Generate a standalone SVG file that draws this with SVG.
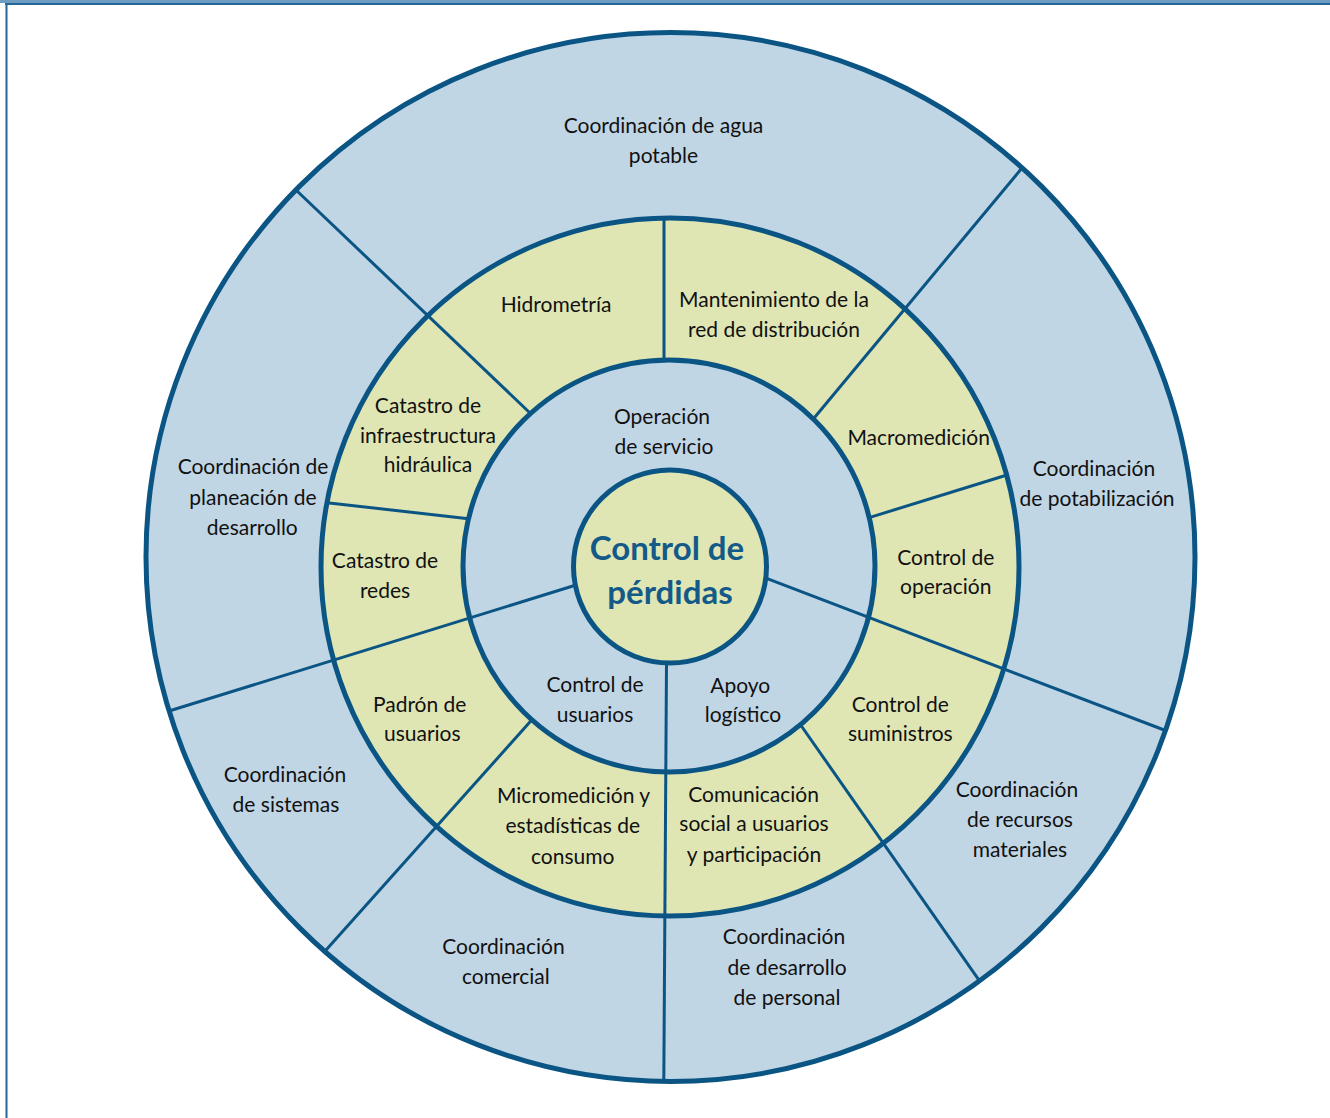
<svg xmlns="http://www.w3.org/2000/svg" width="1330" height="1118" viewBox="0 0 1330 1118">
<style>
.bf{fill:#c1d6e5}
.gf{fill:#dfe6b4}
.ring{fill:none;stroke:#0b5585;stroke-width:5}
.div{stroke:#0b5585;stroke-width:3;fill:none}
.t{font-family:Lato,"Open Sans","Liberation Sans",sans-serif;font-size:21px;fill:#111111;text-anchor:middle}
.title{font-family:Lato,"Open Sans","Liberation Sans",sans-serif;font-size:33px;font-weight:bold;fill:#145a88;text-anchor:middle}
</style>
<rect x="0" y="0" width="1330" height="1118" fill="#ffffff"/>
<line x1="0" y1="1.5" x2="1330" y2="1.5" stroke="#6f9dc1" stroke-width="3"/>
<line x1="5" y1="4" x2="1330" y2="4" stroke="#24679a" stroke-width="2"/>
<line x1="6.5" y1="3" x2="6.5" y2="1118" stroke="#24679a" stroke-width="2"/>

<g id="fills">
<circle cx="670.5" cy="557" r="524.5" class="bf"/>
<circle cx="670" cy="567" r="349" class="gf"/>
<circle cx="669" cy="566" r="206" class="bf"/>
</g>

<g id="connectors">
<line class="div" x1="296" y1="190" x2="530" y2="413"/>
<line class="div" x1="1022" y1="168" x2="813.7" y2="418.5"/>
<line class="div" x1="169" y1="711" x2="575.3" y2="585.3"/>
<line class="div" x1="765.9" y1="578.2" x2="1165.5" y2="730.5"/>
<line class="div" x1="324.7" y1="951.4" x2="531.9" y2="719.8"/>
<line class="div" x1="979.5" y1="980.8" x2="800" y2="724"/>
<line class="div" x1="666.5" y1="663" x2="663.8" y2="1081.5"/>
<line class="div" x1="664" y1="218" x2="664" y2="360"/>
<line class="div" x1="327" y1="502.7" x2="468.5" y2="518.7"/>
<line class="div" x1="1007" y1="475" x2="869.2" y2="517.6"/>
</g>

<g id="rings">
<circle cx="670.5" cy="557" r="524.5" class="ring"/>
<circle cx="670" cy="567" r="349" class="ring"/>
<circle cx="669" cy="566" r="206" class="ring"/>
</g>

<g id="center">
<circle cx="670" cy="566.5" r="96.5" class="gf"/>
<circle cx="670" cy="566.5" r="96.5" class="ring"/>
<text class="title"><tspan x="667" y="560">Control de</tspan><tspan x="670" y="604">pérdidas</tspan></text>
</g>

<g id="coord-agua-potable"><text class="t"><tspan x="663.5" y="133">Coordinación de agua</tspan><tspan x="663.5" y="163">potable</tspan></text></g>
<g id="coord-potabilizacion"><text class="t"><tspan x="1094" y="476">Coordinación</tspan><tspan x="1097" y="506">de potabilización</tspan></text></g>
<g id="coord-recursos"><text class="t"><tspan x="1017" y="797">Coordinación</tspan><tspan x="1020" y="827">de recursos</tspan><tspan x="1020" y="857">materiales</tspan></text></g>
<g id="coord-personal"><text class="t"><tspan x="784" y="944">Coordinación</tspan><tspan x="787" y="975">de desarrollo</tspan><tspan x="787" y="1005">de personal</tspan></text></g>
<g id="coord-comercial"><text class="t"><tspan x="503.5" y="954">Coordinación</tspan><tspan x="505.8" y="984">comercial</tspan></text></g>
<g id="coord-sistemas"><text class="t"><tspan x="285" y="782">Coordinación</tspan><tspan x="286" y="812">de sistemas</tspan></text></g>
<g id="coord-planeacion"><text class="t"><tspan x="253" y="474">Coordinación de</tspan><tspan x="253" y="505">planeación de</tspan><tspan x="252.3" y="535">desarrollo</tspan></text></g>

<g id="hidrometria"><text class="t"><tspan x="556" y="312">Hidrometría</tspan></text></g>
<g id="mantenimiento"><text class="t"><tspan x="774" y="307">Mantenimiento de la</tspan><tspan x="774" y="337">red de distribución</tspan></text></g>
<g id="macromedicion"><text class="t"><tspan x="918.7" y="445">Macromedición</tspan></text></g>
<g id="control-operacion"><text class="t"><tspan x="945.8" y="565">Control de</tspan><tspan x="945.8" y="594">operación</tspan></text></g>
<g id="control-suministros"><text class="t"><tspan x="900.3" y="712">Control de</tspan><tspan x="900.3" y="741">suministros</tspan></text></g>
<g id="comunicacion"><text class="t"><tspan x="753.6" y="802">Comunicación</tspan><tspan x="754" y="831">social a usuarios</tspan><tspan x="754" y="862">y participación</tspan></text></g>
<g id="micromedicion"><text class="t"><tspan x="573.5" y="803">Micromedición y</tspan><tspan x="572.8" y="833">estadísticas de</tspan><tspan x="572.7" y="864">consumo</tspan></text></g>
<g id="padron"><text class="t"><tspan x="419.7" y="712">Padrón de</tspan><tspan x="422.3" y="741">usuarios</tspan></text></g>
<g id="catastro-redes"><text class="t"><tspan x="385" y="568">Catastro de</tspan><tspan x="385" y="598">redes</tspan></text></g>
<g id="catastro-infra"><text class="t"><tspan x="428" y="413">Catastro de</tspan><tspan x="428" y="443">infraestructura</tspan><tspan x="428" y="472">hidráulica</tspan></text></g>

<g id="operacion-servicio"><text class="t"><tspan x="662" y="424">Operación</tspan><tspan x="664" y="454">de servicio</tspan></text></g>
<g id="control-usuarios"><text class="t"><tspan x="595" y="692">Control de</tspan><tspan x="595" y="722">usuarios</tspan></text></g>
<g id="apoyo-logistico"><text class="t"><tspan x="740.3" y="693">Apoyo</tspan><tspan x="743" y="722">logístico</tspan></text></g>
</svg>
